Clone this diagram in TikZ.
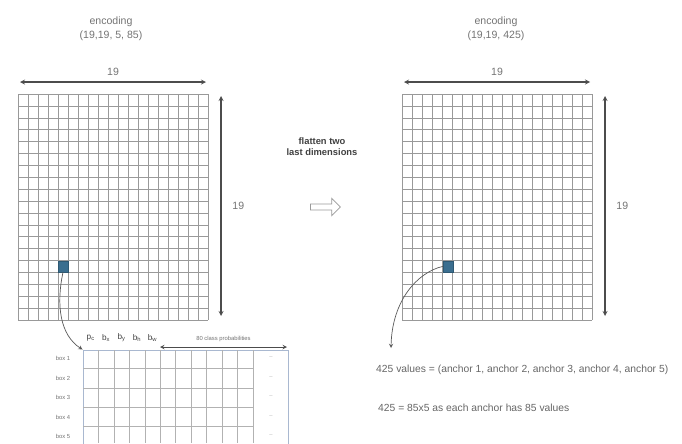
\documentclass[tikz,border=0pt]{standalone}
\usepackage{fontspec}
\setmainfont{Liberation Sans}
\usetikzlibrary{positioning,shapes.arrows}

\definecolor{cellblue}{HTML}{3A6E8F}
\definecolor{tblframe}{HTML}{A9B8D0}

\begin{document}
\begin{tikzpicture}[
  x=0.03cm, y=-0.03cm,
  ttl/.style={font=\small, text=black!55, align=center},
  lbl/.style={font=\small, text=black!55},
  note/.style={font=\fontsize{8.8}{10}\selectfont, text=black!60,
    anchor=west, inner sep=0pt},
  gridline/.style={draw=black!40, line width=0.45pt},
  tblline/.style={draw=black!30, line width=0.4pt},
  tblbox/.style={draw=tblframe, line width=0.8pt, rectangle,
    minimum width=6.15cm, minimum height=2.88cm, inner sep=0pt},
  cellbox/.style={fill=cellblue, draw=cellblue!80!black, rectangle,
    minimum width=0.3cm, minimum height=0.34cm, inner sep=0pt},
  boxlbl/.style={font=\tiny, text=black!55},
  hd/.style={font=\scriptsize, text=black!75, inner sep=1pt},
  dsh/.style={font=\tiny, text=black!30},
  dim/.style={<->, >=stealth, line width=0.9pt, black!70},
  curv/.style={->, >=stealth, semithick, black!65}
]
\useasboundingbox (0,0) rectangle (682,443);

%% ── Titles ───────────────────────────────────────────────────
\node[ttl] (ltitle) at (111,29) {encoding\\[1pt](19,19, 5, 85)};
\node[ttl] (rtitle) at (496,29) {encoding\\[1pt](19,19, 425)};

%% ── Left grid (19 x 19) ──────────────────────────────────────
\foreach \i in {0,...,19} {
  \draw[gridline] ({18+10*\i},94) -- ({18+10*\i},320);
  \draw[gridline] (18,{94+226/19*\i}) -- (208,{94+226/19*\i});
}
\node[cellbox] (lcell) at (63,266.4) {};

\coordinate (lw1) at (20,82);
\coordinate (lw2) at (206,82);
\draw[dim] (lw1) -- node[lbl, above=2pt] {19} (lw2);
\coordinate (lh1) at (221,96);
\coordinate (lh2) at (221,316);
\draw[dim] (lh1) -- node[lbl, right=6pt] {19} (lh2);

%% ── Middle: flatten ──────────────────────────────────────────
\node[font=\footnotesize\bfseries, text=black!75, align=center] (flattxt)
  at (322,147) {flatten two\\last dimensions};
\node[single arrow, draw=black!40, fill=white, line width=0.6pt,
  minimum height=0.9cm, minimum width=0.52cm,
  single arrow head extend=2.5pt, inner sep=1pt] (flat) at (324,207) {};

%% ── Right grid (19 x 19) ─────────────────────────────────────
\foreach \i in {0,...,19} {
  \draw[gridline] ({402+10*\i},94) -- ({402+10*\i},320);
  \draw[gridline] (402,{94+226/19*\i}) -- (592,{94+226/19*\i});
}
\node[cellbox] (rcell) at (448,266.4) {};

\coordinate (rw1) at (404,82);
\coordinate (rw2) at (590,82);
\draw[dim] (rw1) -- node[lbl, above=2pt] {19} (rw2);
\coordinate (rh1) at (605,96);
\coordinate (rh2) at (605,316);
\draw[dim] (rh1) -- node[lbl, right=6pt] {19} (rh2);

%% ── Anchor table (bottom left) ───────────────────────────────
\node[tblbox] (tbl) at (185.5,398) {};
\foreach \k in {1,...,11}
  \draw[tblline] ({83+15.45*\k},350) -- ({83+15.45*\k},443);
\foreach \y in {368,388,407,426}
  \draw[tblline] (83,\y) -- (253,\y);

\foreach \n/\y in {1/358,2/378,3/397,4/417,5/436} {
  \node[boxlbl] (box\n) at (63,\y) {box \n};
  \node[dsh] (dsh\n) at (271,\y) {--};
}

\foreach \t/\s [count=\k] in {p/c,b/x,b/y,b/h,b/w}
  \node[hd] (h\k) at ({83+15.45*(\k-0.5)},338) {\t\textsubscript{\s}};

\coordinate (cp1) at (160,347);
\coordinate (cp2) at (287,347);
\draw[dim, line width=0.7pt] (cp1) -- node[boxlbl, above=1pt] {80 class probabilities} (cp2);

\draw[curv] (lcell.south) .. controls (56,305) and (60,335) .. (tbl.north west);

%% ── Right notes ──────────────────────────────────────────────
\coordinate (rend) at (391,348);
\draw[curv] (rcell.west) .. controls (418,272) and (392,300) .. (rend);

\node[note] (vals) at (376,370)
  {425 values = (anchor 1, anchor 2, anchor 3, anchor 4, anchor 5)};
\node[note] (each) at (378,408) {425 = 85x5 as each anchor has 85 values};

\end{tikzpicture}
\end{document}
